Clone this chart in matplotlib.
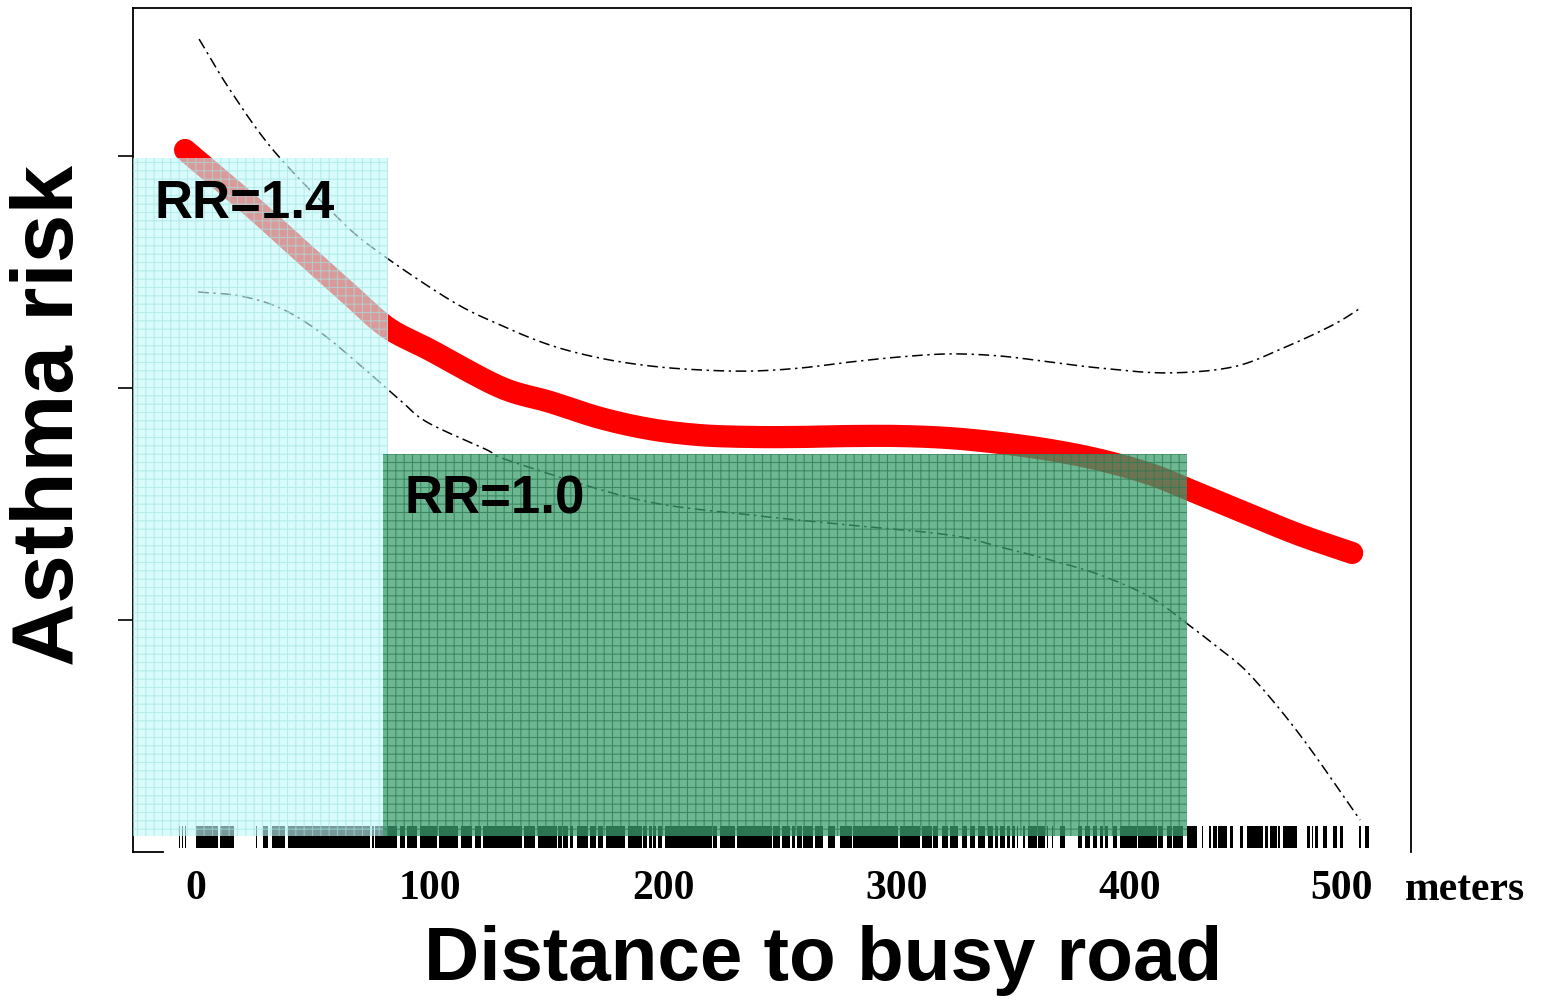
import matplotlib
matplotlib.use("Agg")
import matplotlib.pyplot as plt
from matplotlib.patches import Rectangle
from matplotlib.transforms import ScaledTranslation
import numpy as np

# ---- data (distance in meters, risk in arbitrary plot units) ----
fit_x = [-4.7, 23.1, 44.5, 66.0, 82.2, 100.2, 130.2, 151.6, 173.0, 194.4, 215.8,
         237.3, 258.7, 280.1, 301.5, 322.9, 344.3, 365.7, 387.2, 408.6, 425.7,
         451.4, 472.8, 495.1]
fit_y = [3.026, 2.789, 2.595, 2.401, 2.259, 2.164, 2.004, 1.940, 1.871, 1.823,
         1.797, 1.789, 1.789, 1.793, 1.793, 1.784, 1.763, 1.733, 1.690, 1.629,
         1.560, 1.453, 1.366, 1.289]

upper_x = [1.3, 14.6, 33.0, 58.7, 75.8, 108.8, 130.2, 151.6, 173.0, 194.4, 215.8,
           237.3, 258.7, 280.1, 301.5, 322.9, 344.3, 365.7, 387.2, 415.8, 444.1,
           465.5, 486.9, 499.4]
upper_y = [3.504, 3.284, 3.026, 2.754, 2.603, 2.379, 2.272, 2.185, 2.129, 2.095,
           2.078, 2.073, 2.086, 2.112, 2.134, 2.147, 2.138, 2.112, 2.086, 2.065,
           2.091, 2.172, 2.272, 2.349]

lower_x = [0.9, 18.8, 36.0, 53.1, 70.2, 87.4, 98.9, 123.8, 135.8, 190.1, 237.3,
           280.1, 322.9, 344.3, 365.7, 387.2, 408.6, 422.3, 437.3, 451.4, 472.8,
           498.5]
lower_y = [2.414, 2.397, 2.345, 2.241, 2.099, 1.948, 1.853, 1.737, 1.681, 1.517,
           1.453, 1.409, 1.366, 1.315, 1.259, 1.194, 1.099, 1.000, 0.884, 0.763,
           0.504, 0.138]

# rug of observed distances (runs of ticks: start, end in meters)
rug_start = [-7.3, -6.0, -4.7, 0.0, 10.3, 25.7, 28.7, 32.5, 39.4, 75.4, 76.7, 87.4,
             90.4, 95.9, 104.1, 113.5, 119.5, 122.9, 140.5, 146.5, 155.0, 157.2,
             160.2, 163.2, 168.7, 172.2, 175.6, 185.0, 191.4, 194.0, 195.7, 197.9,
             200.9, 221.4, 224.4, 231.7, 247.1, 251.0, 255.2, 257.4, 259.9, 265.1,
             270.7, 275.8, 281.4, 301.5, 310.9, 315.6, 319.5, 322.9, 328.0, 331.5,
             334.9, 339.2, 342.2, 344.3, 347.3, 349.5, 351.6, 354.2, 356.3, 360.6,
             364.5, 366.6, 370.0, 377.7, 380.7, 384.2, 387.2, 389.3, 392.7, 395.7,
             403.4, 412.0, 415.8, 418.4, 424.4, 430.8, 433.6, 435.5, 437.7, 442.8,
             447.1, 450.1, 457.8, 460.0, 463.4, 465.5, 475.8, 477.9, 479.2, 482.7,
             486.9, 489.9, 497.9, 500.4]
rug_end = [-6.9, -5.6, -4.3, 9.4, 16.3, 26.2, 30.8, 38.1, 74.5, 76.0, 86.1, 89.5,
           94.6, 103.2, 112.2, 118.2, 122.0, 139.6, 145.2, 154.6, 156.7, 159.3,
           161.5, 167.9, 171.3, 174.3, 183.7, 191.0, 193.1, 195.3, 197.0, 199.6,
           221.0, 223.1, 230.8, 246.7, 250.1, 254.4, 256.5, 259.5, 264.2, 268.5,
           273.7, 280.9, 300.6, 310.1, 315.2, 317.8, 322.1, 326.3, 330.2, 333.6,
           337.9, 341.3, 343.5, 346.5, 348.6, 350.7, 352.0, 355.0, 360.2, 363.6,
           364.9, 367.0, 372.2, 379.4, 382.9, 385.9, 388.4, 390.6, 394.4, 403.0,
           411.6, 414.1, 418.0, 422.7, 428.7, 431.3, 434.5, 437.3, 441.5, 444.1,
           448.4, 456.9, 459.1, 463.0, 464.2, 471.5, 477.0, 478.4, 480.5, 484.4,
           488.6, 491.2, 499.1, 502.1]

# exposure zones
zone_x0 = [-27.0, 80.1]
zone_x1 = [82.2, 424.4]
zone_y0 = [0.069, 0.069]
zone_y1 = [2.991, 1.716]
zone_face = ["#c4fafa", "#3c9e6e"]
zone_hatch = ["#a0e4e4", "#2b7a52"]
zone_alpha = [0.62, 0.74]
zone_labels = ["RR=1.4", "RR=1.0"]

x_ticks = [0, 100, 200, 300, 400, 500]
x_tick_labels = ["0", "100", "200", "300", "400", "500"]
y_ticks = [1, 2, 3]

SANS = ["Liberation Sans", "DejaVu Sans"]
SERIF = ["Liberation Serif", "DejaVu Serif"]


def smooth_path(xs, ys, n=12):
    """Catmull-Rom path through the given points (drawing only)."""
    p = np.column_stack([xs, ys]).astype(float)
    p = np.vstack([2 * p[0] - p[1], p, 2 * p[-1] - p[-2]])
    t = np.linspace(0, 1, n, endpoint=False)[:, None]
    out = []
    for i in range(1, len(p) - 2):
        p0, p1, p2, p3 = p[i - 1], p[i], p[i + 1], p[i + 2]
        seg = 0.5 * ((2 * p1) + (-p0 + p2) * t +
                     (2 * p0 - 5 * p1 + 4 * p2 - p3) * t ** 2 +
                     (-p0 + 3 * p1 - 3 * p2 + p3) * t ** 3)
        out.append(seg)
    out.append(p[-2][None, :])
    out = np.vstack(out)
    return out[:, 0], out[:, 1]


plt.rcParams["hatch.linewidth"] = 0.8

fig = plt.figure(figsize=(15.42, 10.0), dpi=100)
ax = fig.add_axes([133 / 1542, 0.148, 1278 / 1542, 0.844])
ax.set_xlim(-27.0, 520.3)
ax.set_ylim(0.0, 3.638)

# rug
widths = [max(e - s, 0.5) for s, e in zip(rug_start, rug_end)]
ax.broken_barh(list(zip(rug_start, widths)), (0.017, 0.095),
               facecolors="black", edgecolor="none", zorder=1)

# fitted curve and confidence bounds
sx, sy = smooth_path(fit_x, fit_y)
ax.plot(sx, sy, color="#ff0000", lw=16, solid_capstyle="round",
        solid_joinstyle="round", zorder=2)
for xs, ys in ((upper_x, upper_y), (lower_x, lower_y)):
    cx, cy = smooth_path(xs, ys)
    ax.plot(cx, cy, color="black", lw=1.1, linestyle=(0, (7, 3, 1.5, 3)),
            zorder=2)

# shaded zones
for x0, x1, y0, y1, fc, hc, a in zip(zone_x0, zone_x1, zone_y0, zone_y1,
                                     zone_face, zone_hatch, zone_alpha):
    ax.add_patch(Rectangle((x0, y0), x1 - x0, y1 - y0, facecolor=fc,
                           edgecolor="none", alpha=a, zorder=3))
    ax.add_patch(Rectangle((x0, y0), x1 - x0, y1 - y0, fill=False,
                           edgecolor=hc, hatch="++", lw=0, alpha=a, zorder=3))

fig.text(155 / 1542, 1 - 204 / 1000, zone_labels[0], ha="left", va="center",
         fontsize=38, fontweight="bold", family=SANS, zorder=6)
fig.text(405 / 1542, 1 - 500 / 1000, zone_labels[1], ha="left", va="center",
         fontsize=38, fontweight="bold", family=SANS, zorder=6)

# axes styling
for s in ("left", "top", "right"):
    ax.spines[s].set_linewidth(1.3)
ax.spines["bottom"].set_bounds(-27.0, -14.0)
ax.spines["bottom"].set_linewidth(1.3)

ax.set_yticks(y_ticks)
ax.set_yticklabels([])
ax.tick_params(axis="y", length=11, width=1.2, direction="out")

ax.set_xticks(x_ticks)
ax.set_xticklabels(x_tick_labels, fontsize=30, fontweight="bold", family=SERIF)
ax.tick_params(axis="x", length=0, pad=13)
# the last label sits slightly left in the original layout
last = ax.get_xticklabels()[-1]
last.set_transform(last.get_transform() +
                   ScaledTranslation(-0.22, 0, fig.dpi_scale_trans))

fig.text(1405 / 1542, 1 - 890 / 1000, "meters", ha="left", va="center",
         fontsize=30, fontweight="bold", family=SERIF)
fig.text(823 / 1542, 1 - 960 / 1000, "Distance to busy road", ha="center",
         va="center", fontsize=55, fontweight="bold", family=SANS)
fig.text(50 / 1542, 1 - 416 / 1000, "Asthma risk", ha="center", va="center",
         rotation=90, fontsize=63, fontweight="bold", family=SANS)

fig.savefig("out.png", dpi=100, facecolor="white")
